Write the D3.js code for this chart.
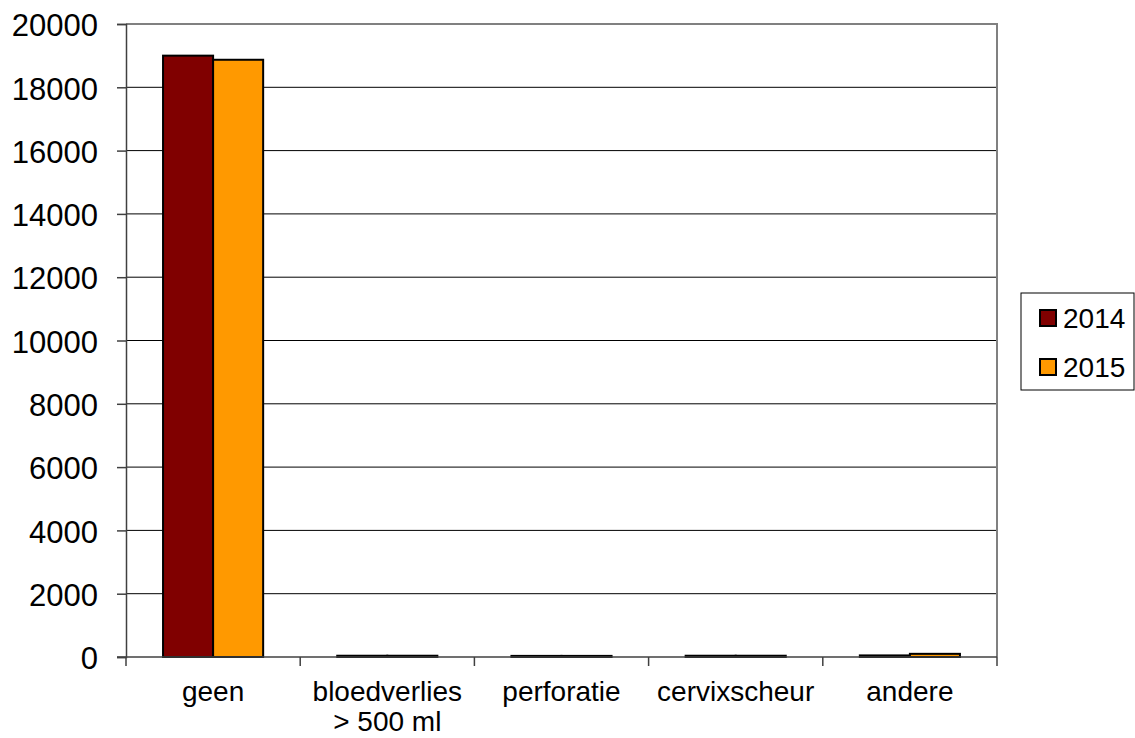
<!DOCTYPE html>
<html>
<head>
<meta charset="utf-8">
<script src="https://cdn.jsdelivr.net/npm/d3@7"></script>
<style>
  body { margin: 0; background: #fff; }
  text { font-family: "Liberation Sans", Arial, sans-serif; fill: #000; }
</style>
</head>
<body>
<div id="chart"></div>
<script>
// data
const categories = ["geen", "bloedverlies\n> 500 ml", "perforatie", "cervixscheur", "andere"];
const series = ["2014", "2015"];
const values2014 = [19000, 40, 35, 40, 50];
const values2015 = [18870, 40, 35, 40, 100];
const colors = ["#800000", "#ff9900"];
const yTicks = [0, 2000, 4000, 6000, 8000, 10000, 12000, 14000, 16000, 18000, 20000];

const owidth = 1135, oheight = 738;
var margin = {top: 24, right: 138, bottom: 81, left: 126},
    width = owidth - margin.left - margin.right,
    height = oheight - margin.top - margin.bottom;

const data = categories.map((c, i) => ({cat: c, vals: [values2014[i], values2015[i]]}));

const svg = d3.select("#chart").append("svg")
  .attr("width", owidth)
  .attr("height", oheight);

const g = svg.append("g")
  .attr("transform", "translate(" + margin.left + "," + margin.top + ")");

var x0 = d3.scaleBand().domain(categories).range([0, width]).padding(0);
var x1 = d3.scaleBand().domain(series).range([0, x0.bandwidth()]).paddingInner(0).paddingOuter(0.74);
var y = d3.scaleLinear().domain([0, 20000]).range([height, 0]);

// gridlines
g.append("g")
  .selectAll("line")
  .data(yTicks.slice(1, -1))
  .enter().append("line")
  .attr("x1", 0).attr("x2", width)
  .attr("y1", d => y(d)).attr("y2", d => y(d))
  .attr("stroke", "#000").attr("stroke-width", 1);

// plot border (top/right grey)
g.append("path")
  .attr("d", "M0," + y(20000) + "H" + width + "V" + height)
  .attr("fill", "none").attr("stroke", "#808080").attr("stroke-width", 2);

// bars
const groups = g.append("g")
  .selectAll("g")
  .data(data)
  .enter().append("g")
  .attr("transform", d => "translate(" + x0(d.cat) + ",0)");

groups.selectAll("rect")
  .data(d => d.vals.map((v, i) => ({key: series[i], value: v, i: i})))
  .enter().append("rect")
  .attr("x", d => x1(d.key))
  .attr("y", d => y(d.value))
  .attr("width", x1.bandwidth())
  .attr("height", d => height - y(d.value))
  .attr("fill", d => colors[d.i])
  .attr("stroke", "#000")
  .attr("stroke-width", 2);

// y axis
const yAxis = g.append("g")
  .call(d3.axisLeft(y).tickValues(yTicks).tickSize(9).tickPadding(19).tickFormat(d3.format("d")));
yAxis.select(".domain").attr("stroke", "#404040").attr("stroke-width", 1.5);
yAxis.selectAll(".tick line").attr("stroke", "#404040").attr("stroke-width", 1.5);
yAxis.selectAll("text")
  .style("font-size", "31px")
  .style("font-family", "'Liberation Sans', Arial, sans-serif")
  .attr("dy", "0.38em")
  .attr("fill", "#000");

// x axis
const xAxis = g.append("g")
  .attr("transform", "translate(0," + height + ")");
xAxis.append("line")
  .attr("x1", -9).attr("x2", width)
  .attr("stroke", "#404040").attr("stroke-width", 1.5);
xAxis.selectAll(".xt")
  .data(d3.range(categories.length + 1))
  .enter().append("line")
  .attr("class", "xt")
  .attr("x1", i => i * x0.step()).attr("x2", i => i * x0.step())
  .attr("y1", 0).attr("y2", 9)
  .attr("stroke", "#404040").attr("stroke-width", 1.5);

const xl = xAxis.selectAll(".xl")
  .data(categories)
  .enter().append("text")
  .attr("class", "xl")
  .attr("text-anchor", "middle")
  .attr("x", d => x0(d) + x0.bandwidth() / 2)
  .attr("y", 44)
  .style("font-size", "28px");
xl.each(function(d) {
  const parts = d.split("\n");
  parts.forEach((p, i) => {
    d3.select(this).append("tspan")
      .attr("x", x0(d) + x0.bandwidth() / 2)
      .attr("dy", i === 0 ? 0 : 30)
      .text(p);
  });
});

// legend
const legend = svg.append("g").attr("transform", "translate(1021,293)");
legend.append("rect")
  .attr("width", 113).attr("height", 97)
  .attr("fill", "#fff").attr("stroke", "#000").attr("stroke-width", 1);
series.forEach((s, i) => {
  const row = legend.append("g").attr("transform", "translate(19," + (25 + i * 49) + ")");
  row.append("rect")
    .attr("x", 0).attr("y", -8)
    .attr("width", 16).attr("height", 16)
    .attr("fill", colors[i]).attr("stroke", "#000").attr("stroke-width", 2);
  row.append("text")
    .attr("x", 23).attr("y", 10)
    .style("font-size", "28px")
    .text(s);
});
</script>
</body>
</html>
